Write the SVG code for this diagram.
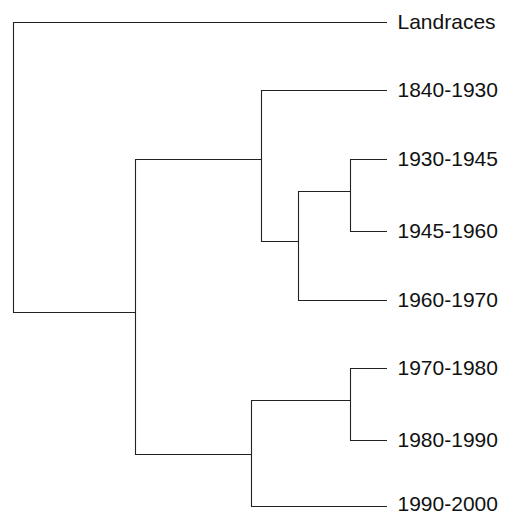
<svg xmlns="http://www.w3.org/2000/svg" width="509" height="515" viewBox="0 0 509 515">
  <style>
    .branch { fill: none; stroke: #222; stroke-width: 1.1; }
    .label { font-family: "Liberation Sans", Arial, sans-serif; font-size: 21px; fill: #111; }
  </style>
  <rect width="509" height="515" fill="#fff"/>
  <!-- tree branches (elbow connectors) -->
  <g id="connectors" class="branch">
    <!-- root -->
    <path d="M387,22.5 H13.5 V312.5 H135.5"/>
    <!-- main clade -->
    <path d="M261.5,159.5 H135.5 V454.5 H251.5"/>
    <!-- older clade -->
    <path d="M387,90.5 H261.5 V241.5 H298.5"/>
    <path d="M350.5,191.5 H298.5 V300.5 H387"/>
    <path d="M387,159.5 H350.5 V231.5 H387"/>
    <!-- recent clade -->
    <path d="M350.5,400.5 H251.5 V506.5 H387"/>
    <path d="M387,368.5 H350.5 V440.5 H387"/>
  </g>
  <!-- leaf labels -->
  <g id="leaf-landraces"><text class="label" x="397.5" y="29">Landraces</text></g>
  <g id="leaf-1840-1930"><text class="label" x="397.5" y="97">1840-1930</text></g>
  <g id="leaf-1930-1945"><text class="label" x="397.5" y="166">1930-1945</text></g>
  <g id="leaf-1945-1960"><text class="label" x="397.5" y="238">1945-1960</text></g>
  <g id="leaf-1960-1970"><text class="label" x="397.5" y="307">1960-1970</text></g>
  <g id="leaf-1970-1980"><text class="label" x="397.5" y="375">1970-1980</text></g>
  <g id="leaf-1980-1990"><text class="label" x="397.5" y="447">1980-1990</text></g>
  <g id="leaf-1990-2000"><text class="label" x="397.5" y="510.5">1990-2000</text></g>
</svg>
